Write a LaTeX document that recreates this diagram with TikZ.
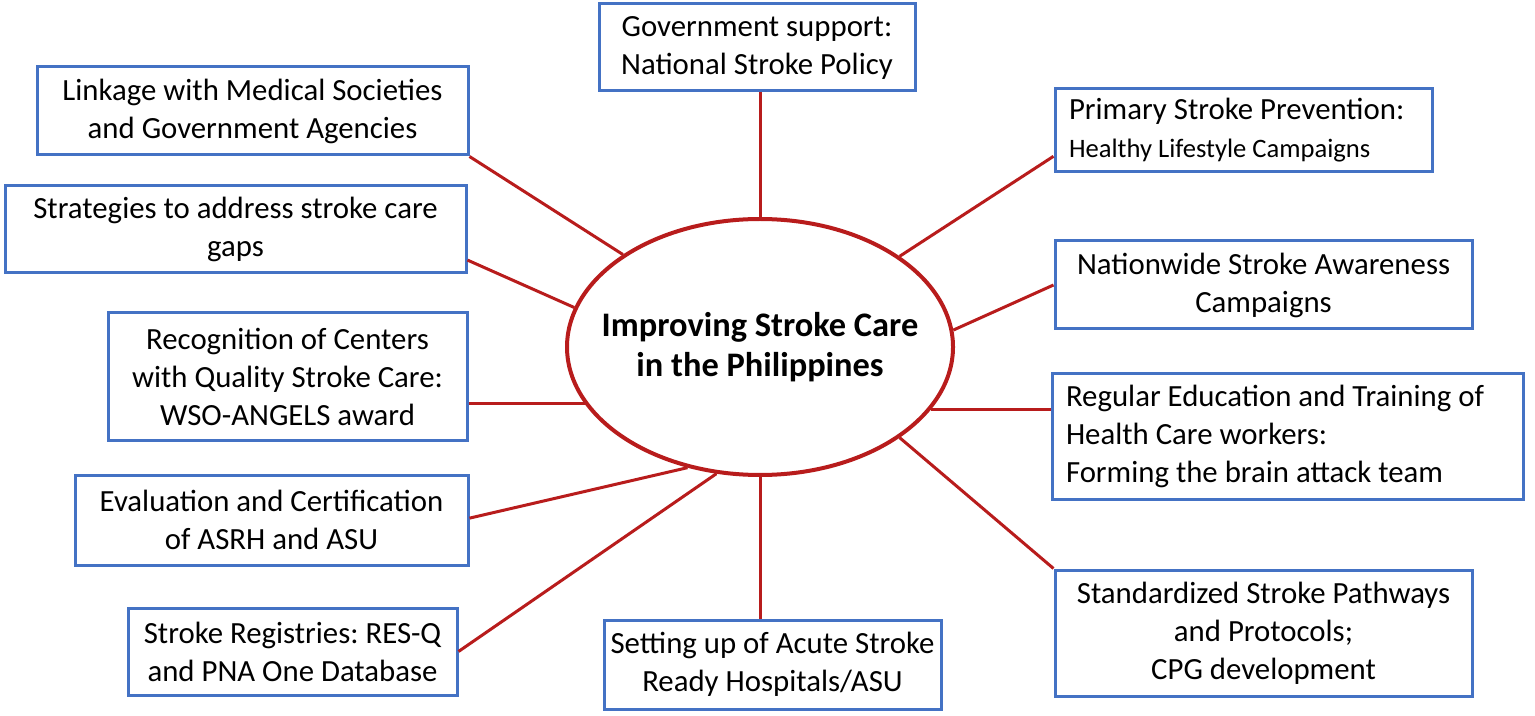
\documentclass[tikz,border=0pt]{standalone}
\usepackage{fontspec}
\setmainfont{Carlito}
\usetikzlibrary{shapes.geometric,calc}
\definecolor{boxblue}{HTML}{4472C4}
\definecolor{linkred}{HTML}{B81C1C}
\begin{document}
\frenchspacing
\begin{tikzpicture}[x=0.5pt,y=-0.5pt,
  box/.style={draw=boxblue,line width=1.5pt,fill=white,inner sep=0pt,align=center,
    font=\fontsize{15.4pt}{19pt}\selectfont},
  lbox/.style={draw=boxblue,line width=1.5pt,fill=white,inner xsep=7pt,inner ysep=0pt,align=flush left,
    font=\fontsize{15.4pt}{19pt}\selectfont},
  conn/.style={draw=linkred,line width=1.5pt},
  hub/.style={ellipse,draw=linkred,line width=2pt,fill=white,inner xsep=-60pt,inner ysep=-20pt,align=center,
    font=\fontsize{17.2pt}{20pt}\selectfont\bfseries}]
\useasboundingbox (0,0) rectangle (1535,716);
\node[hub,minimum width=193pt,minimum height=128pt] (ell) at (760,347) {Improving Stroke Care\\in the Philippines};
\node[box,minimum width=158pt,minimum height=43.5pt] (gov) at (757,47.5) {Government support:\\National Stroke Policy};
\node[box,minimum width=215.5pt,minimum height=44pt] (link) at (252.5,111) {Linkage with Medical Societies\\and Government Agencies};
\node[box,minimum width=230.5pt,minimum height=43.5pt] (strat) at (235.5,229.5) {Strategies to address stroke care\\gaps};
\node[box,minimum width=179.5pt,minimum height=63.5pt] (recog) at (287.5,376.5) {Recognition of Centers\\with Quality Stroke Care:\\WSO-ANGELS award};
\node[box,minimum width=196.5pt,minimum height=45pt] (eval) at (271.5,520) {Evaluation and Certification\\of ASRH and ASU};
\node[box,minimum width=164.5pt,minimum height=43.5pt] (reg) at (292.5,651.5) {Stroke Registries: RES-Q\\and PNA One Database};
\node[box,minimum width=168.5pt,minimum height=44.5pt] (setup) at (772.5,664.5) {Setting up of Acute Stroke\\Ready Hospitals/ASU};
\node[box,minimum width=208.5pt,minimum height=63pt] (std) at (1263.5,633) {Standardized Stroke Pathways\\and Protocols;\\CPG development};
\node[lbox,text width=221.5pt,minimum height=63pt] (edu) at (1287.5,436) {Regular Education and Training of\\Health Care workers:\\Forming the brain attack team};
\node[box,minimum width=208.5pt,minimum height=44pt] (nat) at (1263.5,285) {Nationwide Stroke Awareness\\Campaigns};
\node[lbox,text width=174.5pt,minimum height=41.5pt] (prim) at (1243.5,130.5) {Primary Stroke Prevention:\\{\fontsize{13.3pt}{17pt}\selectfont Healthy Lifestyle Campaigns}};
% connectors
\draw[conn] (ell.north) -- (ell.north |- gov.south);
\draw[conn] (ell.146) -- (link.south east);
\draw[conn] (ell.168) -- ($(strat.north east)!0.84!(strat.south east)$);
\draw[conn] (ell.198) -- (ell.198 -| recog.east);
\draw[conn] (ell.239) -- ($(eval.north east)!0.48!(eval.south east)$);
\draw[conn] (ell.251.6) -- (reg.east);
\draw[conn] (ell.south) -- (ell.south |- setup.north);
\draw[conn] (ell.-33.4) -- (std.north west);
\draw[conn] (ell.-20) -- (ell.-20 -| edu.west);
\draw[conn] (ell.5.6) -- (nat.west);
\draw[conn] (ell.33.4) -- ($(prim.north west)!0.8!(prim.south west)$);
\end{tikzpicture}
\end{document}
